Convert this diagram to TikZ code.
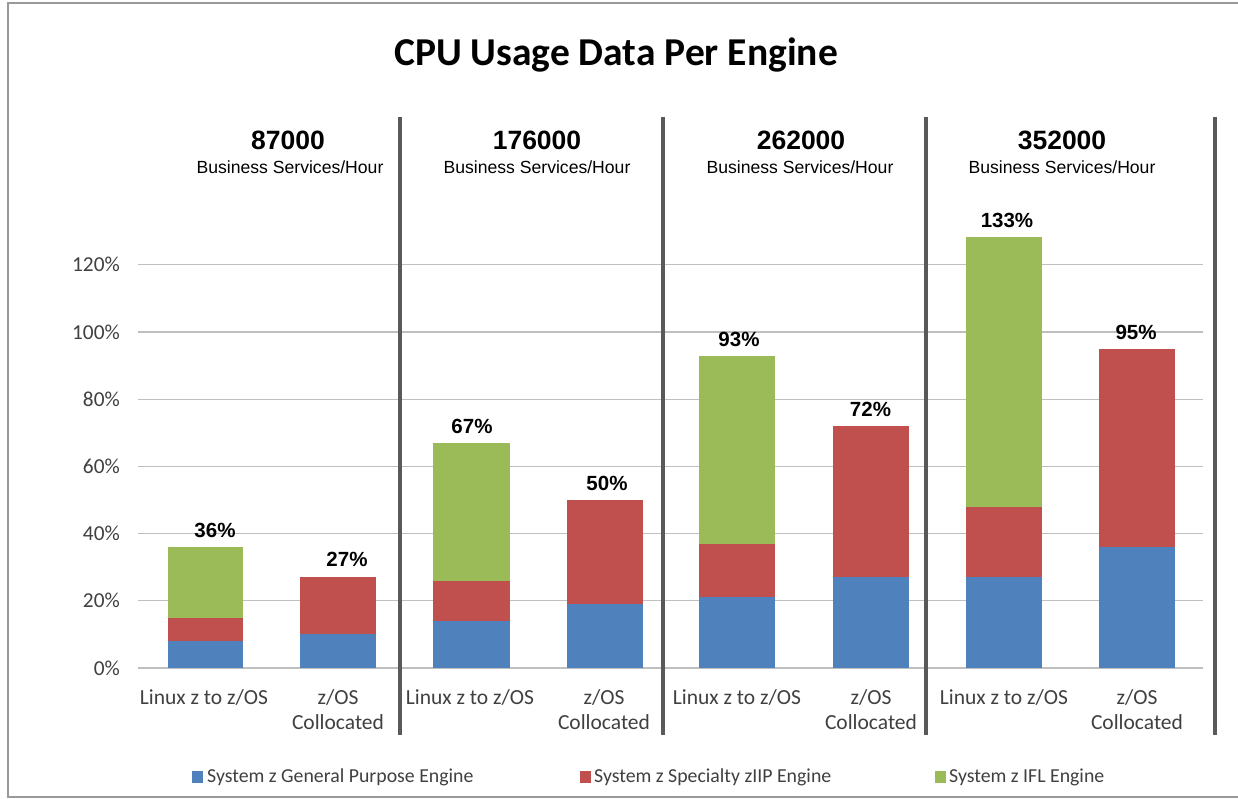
\documentclass[tikz,border=0pt]{standalone}
\usepackage{fontspec}
\setmainfont{Carlito}
\newfontfamily\arialf{Liberation Sans}
\definecolor{cblue}{HTML}{4F81BD}
\definecolor{cred}{HTML}{C0504D}
\definecolor{cgreen}{HTML}{9BBB59}
\definecolor{cgrid}{HTML}{BFBFBF}
\definecolor{cdiv}{HTML}{595959}
\definecolor{ctxt}{HTML}{404040}
\tikzset{
  gridline/.style={draw=cgrid, line width=1.3pt},
  divider/.style={draw=cdiv, line width=3.2pt},
  frame/.style={draw=black!40, line width=1.2pt},
  ylab/.style={anchor=east, text=ctxt, font=\fontsize{21.3}{23}\selectfont, inner sep=0pt},
  catlab/.style={anchor=north, text=ctxt, font=\fontsize{21.5}{25}\selectfont, align=center, inner sep=0pt},
  pctlab/.style={anchor=south, font=\arialf\bfseries\fontsize{20.5}{22}\selectfont, inner sep=0pt},
  hdrnum/.style={font=\arialf\bfseries\fontsize{26.5}{28}\selectfont, inner sep=0pt},
  hdrsub/.style={font=\arialf\fontsize{17.6}{19}\selectfont, inner sep=0pt},
  legtxt/.style={anchor=west, text=ctxt, font=\fontsize{19.8}{21}\selectfont, inner sep=0pt},
  title/.style={font=\bfseries\fontsize{39.5}{42}\selectfont, inner sep=0pt}
}
% \stackbar{x-left}{x-right}{p0}{p1}{colour}
\newcommand{\stackbar}[5]{\fill[#5] (#1,{668-3.36*#3}) rectangle (#2,{668-3.36*#4});}
\begin{document}
\begin{tikzpicture}[x=1pt,y=-1pt]
\useasboundingbox (0,0) rectangle (1238,799);
\fill[white] (0,0) rectangle (1238,799);
% frame
\coordinate (ftr) at (1238,3);
\coordinate (ftl) at (8,3);
\coordinate (fbl) at (8,797);
\coordinate (fbr) at (1238,797);
\draw[frame] (ftr) -- (ftl) -- (fbl) -- (fbr);
% title
\node[title] (ttl) at (616,55) {CPU Usage Data Per Engine};
% grid lines and y labels
\foreach \p/\t in {0/0\%,20/20\%,40/40\%,60/60\%,80/80\%,100/100\%,120/120\%}{
  \coordinate (gl\p) at (138,{668-3.36*\p});
  \coordinate (gr\p) at (1203,{668-3.36*\p});
  \draw[gridline] (gl\p) -- (gr\p);
  \node[ylab] (yl\p) at (120,{668-3.36*\p}) {\t};
}
% bars group 1
\stackbar{168}{243}{0}{8}{cblue}
\stackbar{168}{243}{8}{15}{cred}
\stackbar{168}{243}{15}{36}{cgreen}
\stackbar{300}{376}{0}{10}{cblue}
\stackbar{300}{376}{10}{27}{cred}
% group 2
\stackbar{433}{510}{0}{14}{cblue}
\stackbar{433}{510}{14}{26}{cred}
\stackbar{433}{510}{26}{67}{cgreen}
\stackbar{567}{643}{0}{19}{cblue}
\stackbar{567}{643}{19}{50}{cred}
% group 3
\stackbar{699}{775}{0}{21}{cblue}
\stackbar{699}{775}{21}{37}{cred}
\stackbar{699}{775}{37}{93}{cgreen}
\stackbar{833}{909}{0}{27}{cblue}
\stackbar{833}{909}{27}{72}{cred}
% group 4
\stackbar{966}{1042}{0}{27}{cblue}
\stackbar{966}{1042}{27}{48}{cred}
\stackbar{966}{1042}{48}{128.3}{cgreen}
\stackbar{1099}{1175}{0}{36}{cblue}
\stackbar{1099}{1175}{36}{95}{cred}
% percentage labels
\node[pctlab] (p1) at (215,{668-3.36*36-9}) {36\%};
\node[pctlab] (p2) at (347,{668-3.36*27-10}) {27\%};
\node[pctlab] (p3) at (472,{668-3.36*67-9}) {67\%};
\node[pctlab] (p4) at (607,{668-3.36*50-9}) {50\%};
\node[pctlab] (p5) at (739,{668-3.36*93-9}) {93\%};
\node[pctlab] (p6) at (870.5,{668-3.36*72-9}) {72\%};
\node[pctlab] (p7) at (1007,{668-3.36*128.3-9}) {133\%};
\node[pctlab] (p8) at (1136,{668-3.36*95-9}) {95\%};
% dividers
\foreach \x/\n in {400/a,663/b,926/c,1215/d}{
  \coordinate (dt\n) at (\x,117);
  \coordinate (db\n) at (\x,735);
  \draw[divider] (dt\n) -- (db\n);
}
% headers
\node[hdrnum] (h1) at (288,140) {87000};
\node[hdrsub] (s1) at (290,167) {Business Services/Hour};
\node[hdrnum] (h2) at (537,140) {176000};
\node[hdrsub] (s2) at (537,167) {Business Services/Hour};
\node[hdrnum] (h3) at (801,140) {262000};
\node[hdrsub] (s3) at (800,167) {Business Services/Hour};
\node[hdrnum] (h4) at (1062,140) {352000};
\node[hdrsub] (s4) at (1062,167) {Business Services/Hour};
% category labels
\foreach \i/\xl/\xc in {1/204/338,2/470/604,3/737/871,4/1004/1137}{
  \node[catlab] (cl\i) at (\xl,689) {Linux z to z/OS};
  \node[catlab] (cc\i) at (\xc,689) {z/OS\\Collocated};
}
% legend
\fill[cblue] (192,771) rectangle (203,783);
\node[legtxt] (lg1) at (207,777) {System z General Purpose Engine};
\fill[cred] (580,771) rectangle (591,783);
\node[legtxt] (lg2) at (594,777) {System z Specialty zIIP Engine};
\fill[cgreen] (935,771) rectangle (946,783);
\node[legtxt] (lg3) at (949,777) {System z IFL Engine};
\end{tikzpicture}
\end{document}
